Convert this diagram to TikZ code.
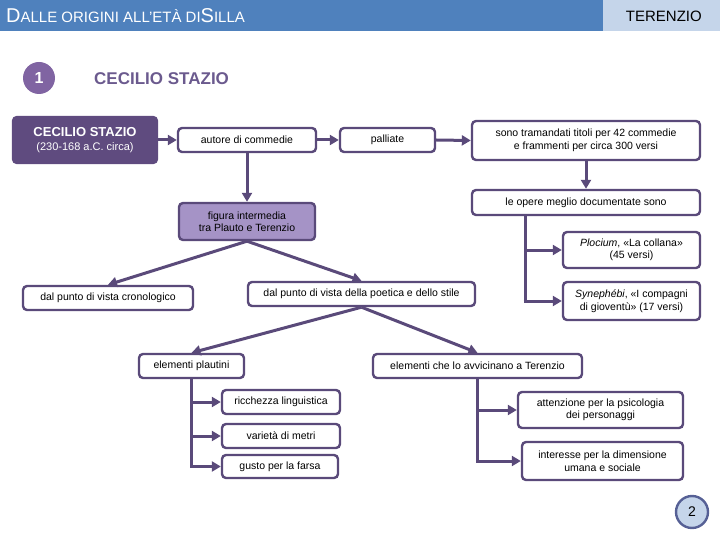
\documentclass[tikz,border=0pt]{standalone}
\usepackage{fontspec}
\setmainfont{Liberation Sans}
\usetikzlibrary{arrows.meta}
\begin{document}
\begin{tikzpicture}[x=1pt,y=-1pt,
  line/.style={draw=lc,line width=3pt},
  arr/.style={line,-{Triangle[length=9pt,width=10pt]}},
  box/.style={draw=lc,line width=2.4pt,rounded corners=4pt,fill=white,inner sep=0pt,font=\fontsize{10.5}{12.5}\selectfont,align=center},
]
\definecolor{lc}{HTML}{5A4A7A}
\definecolor{hb}{HTML}{4F81BD}
\definecolor{hl}{HTML}{C5D5EA}
\definecolor{dk}{HTML}{5F4B7F}
\definecolor{lv}{HTML}{A593C6}
\definecolor{pu}{HTML}{8064A2}
\definecolor{tt}{HTML}{6B5A8E}
\useasboundingbox (0,0) rectangle (720,540);
\fill[hb] (0,0) rectangle (603,31);
\fill[hl] (603,0) rectangle (720,31);
\node[anchor=west,text=white,inner sep=0pt] (ht) at (6,16) {\fontsize{20}{20}\selectfont D\fontsize{15}{15}\selectfont ALLE ORIGINI ALL’ETÀ DI\fontsize{20}{20}\selectfont S\fontsize{15}{15}\selectfont ILLA};
\node[anchor=east,inner sep=0pt,font=\fontsize{15}{15}\selectfont] (tr) at (702,16) {TERENZIO};
\node[circle,fill=pu,minimum size=32pt,inner sep=0pt,text=white,font=\bfseries\fontsize{16}{16}\selectfont] (c1) at (39,78) {1};
\node[anchor=west,text=tt,inner sep=0pt,font=\bfseries\fontsize{17}{17}\selectfont] (tit) at (94,79) {CECILIO STAZIO};
\node[box,fill=dk,draw=dk,text=white,minimum width=144pt,minimum height=46pt,font=\fontsize{11}{14}\selectfont] (cs) at (85,140) {{\bfseries\fontsize{13}{15}\selectfont CECILIO STAZIO}\\(230-168 a.C. circa)};
\node[box,minimum width=138pt,minimum height=24pt] (au) at (247,140) {autore di commedie};
\node[box,minimum width=95pt,minimum height=24pt] (pa) at (387.5,140) {palliate};
\node[box,minimum width=228pt,minimum height=39pt] (so) at (586,140.5) {sono tramandati titoli per 42 commedie\\e frammenti per circa 300 versi};
\node[box,minimum width=228pt,minimum height=25pt] (op) at (586,202.5) {le opere meglio documentate sono};
\node[box,minimum width=137pt,minimum height=36pt] (pl) at (631.5,250) {\textit{Plocium}, «La collana»\\(45 versi)};
\node[box,minimum width=137pt,minimum height=38pt] (sy) at (631.5,301) {\textit{Synephébi}, «I compagni\\di gioventù» (17 versi)};
\node[box,fill=lv,minimum width=136pt,minimum height=37pt] (fi) at (247,221.5) {figura intermedia\\tra Plauto e Terenzio};
\node[box,minimum width=170pt,minimum height=24pt] (cr) at (108,298) {dal punto di vista cronologico};
\node[box,minimum width=227pt,minimum height=24pt] (po) at (361.5,294) {dal punto di vista della poetica e dello stile};
\node[box,minimum width=105pt,minimum height=24pt] (ep) at (191.5,366) {elementi plautini};
\node[box,minimum width=209pt,minimum height=24pt] (et) at (477.5,366) {elementi che lo avvicinano a Terenzio};
\node[box,minimum width=118pt,minimum height=24pt] (ri) at (281,402) {ricchezza linguistica};
\node[box,minimum width=118pt,minimum height=24pt] (va) at (281,436) {varietà di metri};
\node[box,minimum width=116pt,minimum height=23pt] (gu) at (280,466.5) {gusto per la farsa};
\node[box,minimum width=165pt,minimum height=36pt] (at) at (600.5,410) {attenzione per la psicologia\\dei personaggi};
\node[box,minimum width=161pt,minimum height=38pt] (in) at (602.5,461) {interesse per la dimensione\\umana e sociale};
\node[circle,fill=hl,draw=lc!60!hb,line width=2.4pt,minimum size=32pt,inner sep=0pt,font=\fontsize{14}{14}\selectfont] (p2) at (692,512) {2};
% connectors
\draw[arr] (cs.east) -- (au.west);
\draw[arr] (au.east) -- (pa.west);
\draw[arr] (pa.east) -- (so.west);
\draw[arr] (so.south) -- (op.north);
\draw[arr] (au.south) -- (fi.north);
\draw[line] (op.south -| 525,0) -- (525,301);
\draw[arr] (525,250) -- (pl.west);
\draw[arr] (523.5,301) -- (sy.west);
\draw[arr] (fi.south) -- (cr.north);
\draw[arr] (fi.south) -- (po.north);
\draw[arr] (po.south) -- (ep.north);
\draw[arr] (po.south) -- (et.north);
\draw[line] (ep.south) -- (191.5,467);
\draw[arr] (191.5,402) -- (ri.west);
\draw[arr] (191.5,436) -- (va.west);
\draw[arr] (190,466.5) -- (gu.west);
\draw[line] (et.south) -- (477.5,461);
\draw[arr] (477.5,410) -- (at.west);
\draw[arr] (476,461) -- (in.west);
\end{tikzpicture}
\end{document}
